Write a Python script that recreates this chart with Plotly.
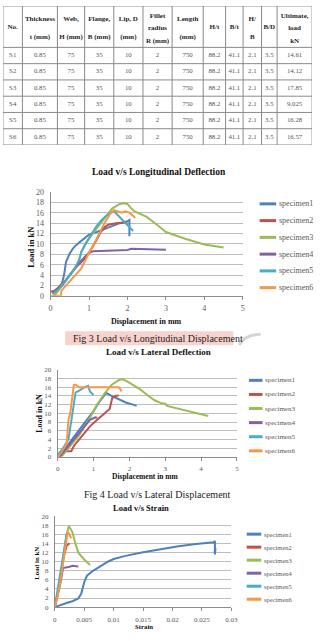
import plotly.graph_objects as go

W, H = 323, 641
SERIF = "Liberation Serif, Times New Roman, serif"

# ---------------- table data ----------------
table_header = ["No.", "Thickness<br>t (mm)", "Web,<br>H (mm)", "Flange,<br>B (mm)", "Lip, D<br>(mm)",
                "Fillet<br>radius<br>R (mm)", "Length<br>(mm)", "H/t", "B/t", "H/<br>B", "B/D",
                "Ultimate,<br>load<br>kN"]
spec_no = ["S1", "S2", "S3", "S4", "S5", "S6"]
thickness = ["0.85", "0.85", "0.85", "0.85", "0.85", "0.85"]
web = ["75", "75", "75", "75", "75", "75"]
flange = ["35", "35", "35", "35", "35", "35"]
lip = ["10", "10", "10", "10", "10", "10"]
fillet = ["2", "2", "2", "2", "2", "2"]
length = ["750", "750", "750", "750", "750", "750"]
h_t = ["88.2", "88.2", "88.2", "88.2", "88.2", "88.2"]
b_t = ["41.1", "41.1", "41.1", "41.1", "41.1", "41.1"]
h_b = ["2.1", "2.1", "2.1", "2.1", "2.1", "2.1"]
b_d = ["3.5", "3.5", "3.5", "3.5", "3.5", "3.5"]
ultimate = ["14.61", "14.12", "17.85", "9.025", "16.28", "16.57"]
col_widths = [20, 36, 28, 30, 30, 30, 32, 23, 18, 19, 16, 36]

# ---------------- series ----------------
names = ["specimen1", "specimen2", "specimen3", "specimen4", "specimen5", "specimen6"]
colors = ["#4F81BD", "#C0504D", "#9BBB59", "#8064A2", "#4BACC6", "#F79646"]

# Fig 3: load vs longitudinal deflection
lon_x1 = [0.1, 0.2, 0.3, 0.35, 0.4, 0.5, 0.6, 0.75, 0.9, 1.0, 1.2, 1.5, 1.8, 2.0, 2.05, 2.05]
lon_y1 = [0.5, 1.5, 2.5, 4.0, 6.5, 8.2, 9.3, 10.3, 11.2, 11.8, 12.3, 13.2, 14.0, 14.4, 14.6, 11.5]
lon_x2 = [0.0, 0.1, 0.3, 0.5, 0.7, 0.9, 1.0, 1.1, 1.2, 1.3, 1.4, 1.5, 1.7, 1.9, 2.0]
lon_y2 = [0.8, 1.0, 2.2, 4.0, 5.8, 7.2, 8.3, 9.5, 10.8, 12.3, 13.2, 13.7, 14.0, 14.1, 14.12]
lon_x3 = [0.1, 0.3, 0.5, 0.7, 0.8, 0.9, 1.0, 1.2, 1.4, 1.6, 1.8, 1.9, 2.0, 2.1, 2.2, 2.5, 2.8, 3.0, 3.5, 4.0, 4.5]
lon_y3 = [0.0, 2.0, 4.0, 6.0, 8.5, 9.8, 11.0, 13.0, 15.0, 16.8, 17.7, 17.85, 17.7, 16.8, 16.2, 15.2, 13.5, 12.3, 11.0, 9.9, 9.3]
lon_x4 = [0.05, 0.3, 0.5, 0.7, 0.9, 1.0, 1.1, 1.5, 2.0, 2.1, 2.5, 3.0]
lon_y4 = [0.5, 2.0, 4.0, 6.0, 7.6, 8.3, 8.6, 8.7, 8.85, 9.05, 9.0, 8.9]
lon_x5 = [0.05, 0.2, 0.4, 0.6, 0.75, 0.8, 0.9, 1.0, 1.1, 1.2, 1.35, 1.5, 1.65, 1.75, 1.9, 2.0, 2.1, 2.15]
lon_y5 = [0.3, 1.2, 3.0, 5.0, 7.0, 8.5, 10.0, 11.2, 12.5, 13.5, 14.8, 15.7, 16.3, 15.5, 14.5, 13.6, 12.8, 12.5]
lon_x6 = [0.0, 0.27, 0.28, 0.4, 0.6, 0.8, 1.0, 1.2, 1.4, 1.55, 1.65, 1.75, 1.85, 1.95, 2.05, 2.15, 2.2]
lon_y6 = [0.0, 0.0, 1.0, 2.0, 3.5, 5.3, 8.3, 11.0, 14.0, 15.8, 16.5, 16.2, 16.0, 16.3, 16.0, 15.4, 15.0]

# Fig 4: load vs lateral deflection
lat_x1 = [0.05, 0.2, 0.4, 0.6, 0.8, 1.0, 1.15, 1.3, 1.35, 1.5, 1.7, 1.9, 2.1, 2.2]
lat_y1 = [0.0, 1.8, 4.0, 6.2, 8.4, 10.5, 12.5, 14.2, 14.7, 14.0, 13.2, 12.5, 12.0, 11.7]
lat_x2 = [0.05, 0.1, 0.38, 0.45, 0.55, 0.7, 0.9, 1.1, 1.3, 1.45, 1.52, 1.6, 1.7]
lat_y2 = [0.5, 1.3, 1.3, 2.5, 3.5, 5.0, 7.0, 8.5, 10.0, 11.0, 13.5, 14.0, 14.1]
lat_x3 = [0.1, 0.3, 0.6, 0.9, 1.1, 1.3, 1.5, 1.7, 1.8, 1.95, 2.1, 2.3, 2.5, 2.7, 2.9, 3.0, 3.05, 3.5, 4.0, 4.2]
lat_y3 = [0.0, 2.0, 5.0, 9.0, 12.0, 14.5, 16.5, 17.6, 17.85, 17.3, 16.5, 15.5, 14.2, 13.0, 12.3, 12.2, 11.7, 10.8, 9.8, 9.4]
lat_x4 = [0.05, 0.2, 0.4, 0.6, 0.75, 0.9, 1.05, 1.1]
lat_y4 = [0.0, 1.5, 3.5, 5.5, 7.2, 8.5, 9.1, 9.0]
lat_x5 = [0.0, 0.15, 0.3, 0.35, 0.4, 0.45, 0.5, 0.6, 0.75, 0.85, 0.9, 1.0]
lat_y5 = [0.5, 2.0, 4.0, 7.0, 10.0, 13.0, 14.8, 15.2, 16.0, 16.3, 15.0, 14.2]
lat_x6 = [0.0, 0.1, 0.25, 0.3, 0.35, 0.4, 0.45, 0.5, 0.6, 0.8, 1.0, 1.2, 1.5, 1.7, 1.75, 1.78]
lat_y6 = [0.0, 1.0, 3.0, 8.5, 10.0, 14.0, 16.5, 16.6, 16.0, 16.0, 16.0, 16.0, 16.1, 16.0, 15.5, 15.0]

# Load vs strain
str_x1 = [0.0, 0.001, 0.002, 0.003, 0.004, 0.0045, 0.005, 0.0055, 0.0065, 0.008, 0.009, 0.01, 0.012,
          0.015, 0.018, 0.021, 0.024, 0.027, 0.0272, 0.0272, 0.0273, 0.0271]
str_y1 = [0.0, 0.5, 0.9, 1.3, 1.9, 3.0, 5.5, 7.0, 8.0, 9.2, 10.0, 10.6, 11.3,
          12.1, 12.8, 13.4, 13.9, 14.3, 14.6, 11.6, 13.0, 12.0]
str_x2 = [0.0, 0.0005, 0.001, 0.0015, 0.002, 0.0025]
str_y2 = [0.0, 3.0, 7.0, 11.0, 13.5, 14.1]
str_x3 = [0.0, 0.0005, 0.001, 0.0015, 0.002, 0.0024, 0.003, 0.0035, 0.004, 0.005, 0.006]
str_y3 = [0.0, 3.0, 7.0, 12.0, 16.0, 17.9, 16.5, 14.0, 12.0, 10.5, 9.3]
str_x4 = [0.0, 0.0005, 0.001, 0.0014, 0.002, 0.0025, 0.003, 0.004]
str_y4 = [0.0, 2.5, 5.5, 8.6, 8.7, 8.9, 9.1, 8.95]
str_x5 = [0.0, 0.0005, 0.001, 0.0015, 0.002, 0.0025]
str_y5 = [0.0, 4.0, 9.0, 13.0, 16.0, 16.3]
str_x6 = [0.0, 0.0005, 0.001, 0.0015, 0.002, 0.0022, 0.0025, 0.0028]
str_y6 = [0.0, 2.5, 6.0, 11.0, 15.0, 16.6, 16.0, 15.2]

disp_ticks = [0, 1, 2, 3, 4, 5]
load_ticks = [0, 2, 4, 6, 8, 10, 12, 14, 16, 18, 20]
strain_ticks = [0, 0.005, 0.01, 0.015, 0.02, 0.025, 0.03]
strain_ticktext = ["0", "0.005", "0.01", "0.015", "0.02", "0.025", "0.03"]

charts = [
    dict(xs=[lon_x1, lon_x2, lon_x3, lon_x4, lon_x5, lon_x6], ys=[lon_y1, lon_y2, lon_y3, lon_y4, lon_y5, lon_y6]),
    dict(xs=[lat_x1, lat_x2, lat_x3, lat_x4, lat_x5, lat_x6], ys=[lat_y1, lat_y2, lat_y3, lat_y4, lat_y5, lat_y6]),
    dict(xs=[str_x1, str_x2, str_x3, str_x4, str_x5, str_x6], ys=[str_y1, str_y2, str_y3, str_y4, str_y5, str_y6]),
]


def px(x):
    return x / W


def py(y):
    return 1 - y / H


fig = go.Figure()
shapes = []
annotations = []

# ---------------- table (drawn on its own hidden axis pair, units = px) ----------------
TBL_LEFT, TBL_TOP = 1, 2
HEADER_H, ROW_H = 42, 16.5
tbl_w = sum(col_widths)
tbl_h = HEADER_H + ROW_H * len(spec_no)
col_edges = [0]
for w_ in col_widths:
    col_edges.append(col_edges[-1] + w_)
col_centers = [(col_edges[j] + col_edges[j + 1]) / 2 for j in range(len(col_widths))]
row_edges = [0, HEADER_H] + [HEADER_H + ROW_H * (r + 1) for r in range(len(spec_no))]
header_line_y = {1: [21.3], 2: [13.7, 31.3], 3: [10.7, 23.0, 35.3]}

hx, hy, ht = [], [], []
for j, h in enumerate(table_header):
    parts = h.split("<br>")
    for part, yy in zip(parts, header_line_y[len(parts)]):
        hx.append(col_centers[j])
        hy.append(yy)
        ht.append("<b>%s</b>" % part)
fig.add_trace(go.Scatter(x=hx, y=hy, text=ht, mode="text", textposition="middle center",
                         textfont=dict(family=SERIF, size=7, color="#262626"),
                         xaxis="x4", yaxis="y4", showlegend=False, hoverinfo="skip"))

table_cols = [spec_no, thickness, web, flange, lip, fillet, length, h_t, b_t, h_b, b_d, ultimate]
cx, cy, ct = [], [], []
for j, col in enumerate(table_cols):
    for r, val in enumerate(col):
        cx.append(col_centers[j])
        cy.append(HEADER_H + ROW_H * (r + 0.5))
        ct.append(val)
fig.add_trace(go.Scatter(x=cx, y=cy, text=ct, mode="text", textposition="middle center",
                         textfont=dict(family=SERIF, size=6.8, color="#555555"),
                         xaxis="x4", yaxis="y4", showlegend=False, hoverinfo="skip"))

for xe in col_edges:
    shapes.append(dict(type="line", xref="x4", yref="y4", x0=xe, x1=xe, y0=0, y1=tbl_h,
                       line=dict(color="#8a8a8a", width=1)))
for ye in row_edges:
    shapes.append(dict(type="line", xref="x4", yref="y4", x0=0, x1=tbl_w, y0=ye, y1=ye,
                       line=dict(color="#8a8a8a", width=1)))

fig.layout["xaxis4"] = dict(domain=[px(TBL_LEFT), px(TBL_LEFT + tbl_w)], range=[0, tbl_w], visible=False,
                            anchor="y4", fixedrange=True)
fig.layout["yaxis4"] = dict(domain=[py(TBL_TOP + tbl_h), py(TBL_TOP)], range=[tbl_h, 0], visible=False,
                            anchor="x4", fixedrange=True)

# ---------------- charts ----------------
axes_spec = [
    dict(xd=(50, 247.7), yd=(190.7, 296), xr=[0, 5], tf=8),
    dict(xd=(57.3, 241.7), yd=(371, 459.3), xr=[0, 5], tf=7),
    dict(xd=(54.3, 236), yd=(519.7, 611.7), xr=[0, 0.03], tf=7),
]

for i, (ch, ax) in enumerate(zip(charts, axes_spec)):
    n = "" if i == 0 else str(i + 1)
    for k in range(6):
        fig.add_trace(go.Scatter(x=ch["xs"][k], y=ch["ys"][k], mode="lines", name=names[k],
                                 line=dict(color=colors[k], width=2), showlegend=False,
                                 xaxis="x" + n, yaxis="y" + n))
    if i == 2:
        tv, tt = strain_ticks, strain_ticktext
    else:
        tv, tt = disp_ticks, [str(t) for t in disp_ticks]
    fig.layout["xaxis" + n] = dict(domain=[px(ax["xd"][0]), px(ax["xd"][1])], range=ax["xr"],
                                   anchor="y" + n, tickvals=tv, ticktext=tt, showgrid=False,
                                   zeroline=False, showline=True, linecolor="#8c8c8c", linewidth=1,
                                   ticks="outside", ticklen=3, tickcolor="#8c8c8c",
                                   tickfont=dict(family=SERIF, size=ax["tf"], color="#595959"),
                                   ticklabelstandoff=2, fixedrange=True)
    fig.layout["yaxis" + n] = dict(domain=[py(ax["yd"][1]), py(ax["yd"][0])], range=[0, 20],
                                   anchor="x" + n, tickvals=load_ticks, showgrid=True,
                                   gridcolor="#bdbdbd", gridwidth=1, zeroline=False, showline=True,
                                   linecolor="#8c8c8c", linewidth=1, ticks="",
                                   tickfont=dict(family=SERIF, size=ax["tf"], color="#595959"),
                                   ticklabelstandoff=4, fixedrange=True)


def ann(text, x, y, size, bold=False, color="#111", angle=0, xanchor="center"):
    annotations.append(dict(text=("<b>%s</b>" % text) if bold else text, x=px(x), y=py(y),
                            xref="paper", yref="paper", showarrow=False, textangle=angle,
                            xanchor=xanchor, yanchor="middle",
                            font=dict(family=SERIF, size=size, color=color)))


# chart titles
ann("Load v/s Longitudinal Deflection", 161.3, 170, 9.5, bold=True)
ann("Load v/s Lateral Deflection", 160.5, 353.3, 9, bold=True)
ann("Load v/s Strain", 143, 511, 8.5, bold=True)
# axis titles
ann("Load in kN", 29, 246, 8.5, bold=True, angle=-90)
ann("Displacement in mm", 149, 322, 8, bold=True)
ann("Load in kN", 38.7, 415, 8, bold=True, angle=-90)
ann("Displacement in mm", 147.5, 479.5, 7.5, bold=True)
ann("Load in kN", 36, 566.7, 6.8, bold=True, angle=-90)
ann("Strain", 145.7, 631.7, 6.8, bold=True)
# captions
shapes.append(dict(type="rect", xref="paper", yref="paper", x0=px(65), x1=px(238), y0=py(346), y1=py(332),
                   fillcolor="#f8d3cd", line=dict(width=0), layer="below"))
shapes.append(dict(type="path", xref="paper", yref="paper",
                   path="M %f,%f Q %f,%f %f,%f" % (px(244), py(346), px(250), py(335), px(266), py(335)),
                   line=dict(color="#d4d4d4", width=3), layer="below"))
ann("Fig 3 Load v/s Longitudinal Displacement", 160, 339, 10, color="#1a1a1a")
ann("Fig 4 Load v/s Lateral Displacement", 159.5, 497.5, 10, color="#1a1a1a")

# legends
legend_spec = [
    dict(x0=265, x1=282, y0=202.7, dy=17, fs=8),
    dict(x0=254, x1=268, y0=381.7, dy=14.3, fs=7),
    dict(x0=251.7, x1=266.7, y0=537.7, dy=13.2, fs=6.5),
]
for lg in legend_spec:
    for k in range(6):
        yy = lg["y0"] + k * lg["dy"]
        shapes.append(dict(type="line", xref="paper", yref="paper", x0=px(lg["x0"]), x1=px(lg["x1"]),
                           y0=py(yy), y1=py(yy), line=dict(color=colors[k], width=3)))
        ann(names[k], lg["x1"] + 0.5, yy, lg["fs"], color="#595959", xanchor="left")

fig.update_layout(width=W, height=H, margin=dict(l=0, r=0, t=0, b=0), autosize=False,
                  paper_bgcolor="white", plot_bgcolor="white", showlegend=False,
                  annotations=annotations, shapes=shapes)

fig.write_html("out.html")
